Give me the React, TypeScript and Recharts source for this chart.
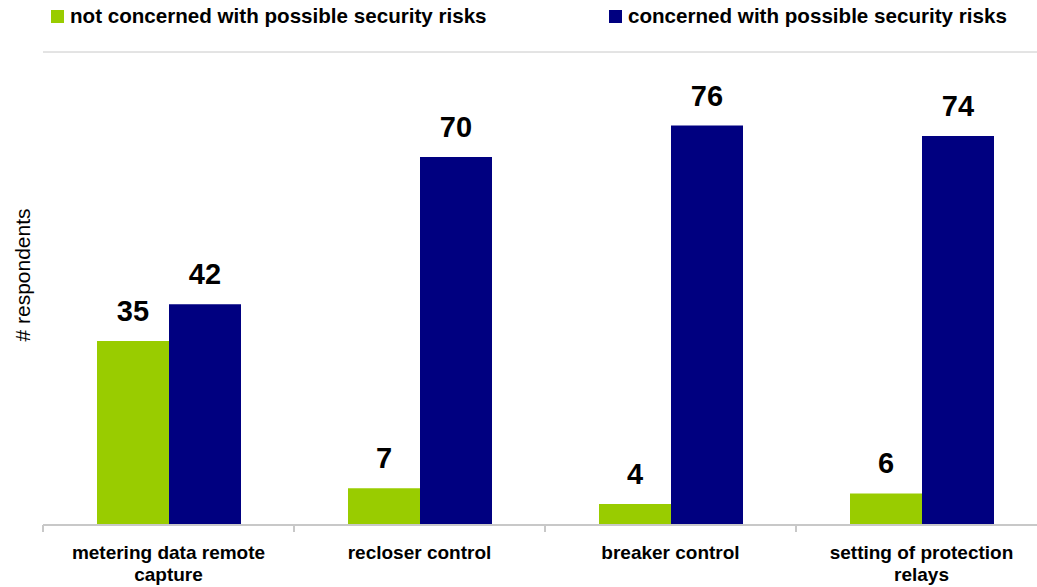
import React from 'react';
import { BarChart, Bar, XAxis, YAxis, CartesianGrid, LabelList } from 'recharts';

const CATEGORIES = [
  'metering data remote capture',
  'recloser control',
  'breaker control',
  'setting of protection relays',
];
const NOT_CONCERNED = [35, 7, 4, 6];
const CONCERNED = [42, 70, 76, 74];
const Y_TICKS = [0, 10, 20, 30, 40, 50, 60, 70, 80, 90];

const SERIES = [
  { key: 'notConcerned', name: 'not concerned with possible security risks', color: '#99CC00' },
  { key: 'concerned', name: 'concerned with possible security risks', color: '#000080' },
];

const FONT = 'Arial, "Liberation Sans", sans-serif';
const GRID = '#c8c8c8';

const data = CATEGORIES.map((name, i) => ({
  name,
  notConcerned: NOT_CONCERNED[i],
  concerned: CONCERNED[i],
}));

// greedy word wrap, the category labels break after ~21 characters
function wrap(label: string, max = 21) {
  const lines: string[] = [];
  let cur = '';
  label.split(' ').forEach((w) => {
    const next = cur ? cur + ' ' + w : w;
    if (next.length > max && cur) {
      lines.push(cur);
      cur = w;
    } else {
      cur = next;
    }
  });
  if (cur) lines.push(cur);
  return lines;
}

// label plus the small tick mark on the left edge of each category band
function CategoryTick(props: any) {
  const { x, y, payload } = props;
  const lines = wrap(String(payload.value));
  const half = payload.offset || 0;
  return (
    <g>
      {half > 0 && (
        <line x1={x - half} x2={x - half} y1={y - 8} y2={y - 1} stroke={GRID} strokeWidth={2} />
      )}
      <text x={x} y={y} textAnchor="middle" fontFamily={FONT} fontSize={19} fontWeight="bold" fill="#000">
        {lines.map((l, i) => (
          <tspan key={i} x={x} dy={i === 0 ? 26 : 22}>
            {l}
          </tspan>
        ))}
      </text>
    </g>
  );
}

export default function App() {
  const legendLeft = [51, 609];
  return (
    <div
      style={{
        position: 'fixed',
        left: 0,
        top: 0,
        width: 1037,
        height: 587,
        overflow: 'hidden',
        background: '#fff',
      }}
    >
      {SERIES.map((s, i) => (
        <div
          key={s.key}
          style={{
            position: 'absolute',
            left: legendLeft[i],
            top: 4,
            display: 'flex',
            alignItems: 'center',
            fontFamily: FONT,
            fontSize: 20.6,
            fontWeight: 'bold',
            color: '#000',
            whiteSpace: 'nowrap',
          }}
        >
          <span style={{ display: 'inline-block', width: 13, height: 13, background: s.color, marginRight: 6 }} />
          {s.name}
        </div>
      ))}
      <div
        style={{
          position: 'absolute',
          left: 23,
          top: 275,
          transform: 'translate(-50%, -50%) rotate(-90deg)',
          fontFamily: FONT,
          fontSize: 21,
          color: '#000',
          whiteSpace: 'nowrap',
        }}
      >
        # respondents
      </div>
      <BarChart
        width={1060}
        height={587}
        data={data}
        margin={{ top: 52, right: 13, left: 43, bottom: 0 }}
        barGap={0}
        barSize={72}
      >
        <CartesianGrid vertical={false} stroke={GRID} />
        <XAxis
          dataKey="name"
          height={62}
          axisLine={{ stroke: GRID, strokeWidth: 2 }}
          tickLine={false}
          tick={<CategoryTick />}
          interval={0}
        />
        <YAxis
          domain={[0, 90]}
          ticks={Y_TICKS}
          width={0}
          tick={false}
          tickLine={false}
          axisLine={{ stroke: GRID, strokeWidth: 2 }}
        />
        {SERIES.map((s) => (
          <Bar key={s.key} dataKey={s.key} name={s.name} fill={s.color} isAnimationActive={false}>
            <LabelList
              dataKey={s.key}
              position="top"
              offset={20}
              fontFamily={FONT}
              fontSize={29}
              fontWeight="bold"
              fill="#000"
            />
          </Bar>
        ))}
      </BarChart>
    </div>
  );
}
